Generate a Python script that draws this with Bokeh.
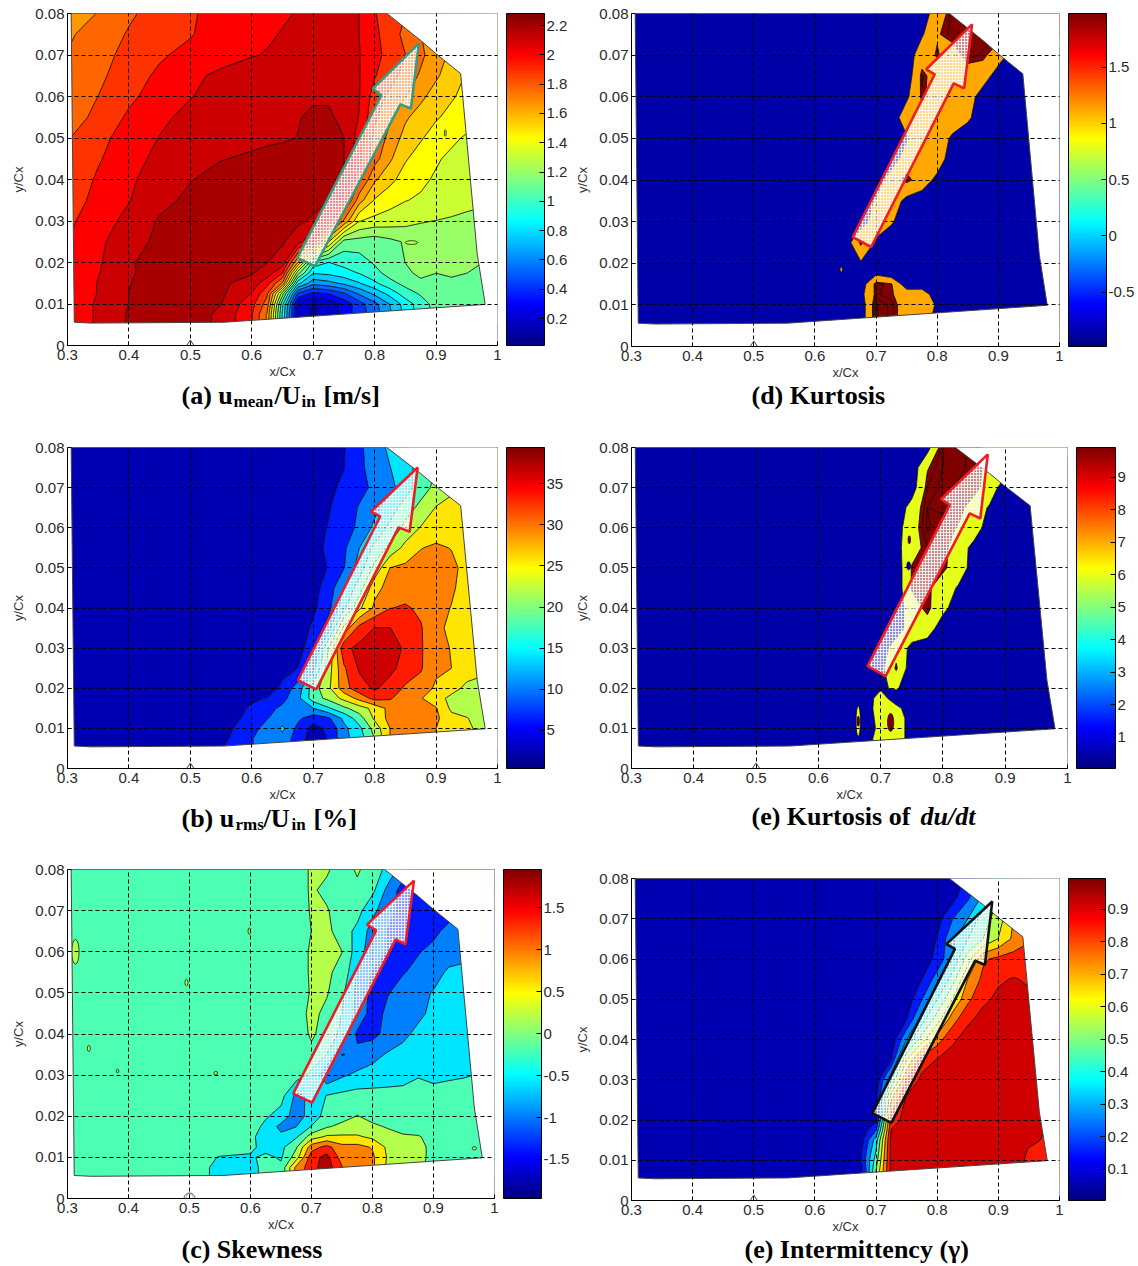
from bokeh.embed import file_html
from bokeh.layouts import column, row
from bokeh.models import ColorBar, FixedTicker, Label, LinearColorMapper, PolyAnnotation
from bokeh.plotting import figure
from bokeh.resources import INLINE
import numpy as np

# ---- measurement grid -------------------------------------------------
XS = [.30, .35, .40, .45, .50, .55, .60, .625, .65, .675, .70, .725, .75, .775, .80, .825,
      .85, .875, .90, .925, .95, .975, 1.0]
YS = [.08, .075, .07, .065, .06, .055, .05, .045, .04, .035, .03, .025, .02, .0175, .015,
      .0125, .01, .0075, .005]
X_TICKS = [.3, .4, .5, .6, .7, .8, .9, 1.0]
X_LABELS = ["0.3", "0.4", "0.5", "0.6", "0.7", "0.8", "0.9", "1"]
Y_TICKS = [0, .01, .02, .03, .04, .05, .06, .07, .08]
Y_LABELS = ["0", "0.01", "0.02", "0.03", "0.04", "0.05", "0.06", "0.07", "0.08"]

DOMAIN_X = [.306, .308, .311, .338, .555, .98, .967, .94, .90, .875, .82]
DOMAIN_Y = [.08, .05, .0056, .0054, .0056, .0099, .022, .0655, .0703, .0735, .08]

# reference point on the x axis
MARK_DIAMOND_X = [.494, .5, .506, .5]
MARK_DIAMOND_Y = [0, -.00128, 0, .00128]
MARK_CIRCLE_X = [.494, .4958, .5, .5042, .506, .5042, .5, .4958]
MARK_CIRCLE_Y = [0, .0009, .00128, .0009, 0, -.0009, -.00128, -.0009]


def seg(default, start, vals):
    r = [default] * len(XS)
    i = XS.index(start)
    r[i:i + len(vals)] = vals
    return r


# (a) mean velocity
Z_A = [
    [1.66, 1.72, 1.81, 1.88, 1.93, 1.98, 2.01, 2.03, 2.045, 2.06, 2.08, 2.09, 2.08, 2.055, 1.95, 1.88, 1.83, 1.74, 1.68, 1.6, 1.55, 1.5, 1.45],
    [1.70, 1.76, 1.84, 1.90, 1.935, 1.99, 2.03, 2.045, 2.06, 2.07, 2.09, 2.10, 2.085, 2.055, 1.97, 1.88, 1.80, 1.72, 1.62, 1.55, 1.5, 1.45, 1.4],
    [1.72, 1.78, 1.87, 1.93, 1.97, 2.01, 2.05, 2.06, 2.08, 2.09, 2.10, 2.11, 2.09, 2.06, 1.98, 1.90, 1.83, 1.74, 1.65, 1.58, 1.52, 1.45, 1.4],
    [1.73, 1.80, 1.90, 1.96, 2.03, 2.08, 2.10, 2.11, 2.12, 2.13, 2.14, 2.145, 2.12, 2.06, 1.95, 1.88, 1.78, 1.70, 1.62, 1.54, 1.48, 1.42, 1.38],
    [1.74, 1.83, 1.92, 1.99, 2.05, 2.10, 2.13, 2.14, 2.15, 2.155, 2.16, 2.16, 2.13, 2.06, 1.89, 1.80, 1.72, 1.63, 1.55, 1.5, 1.46, 1.42, 1.38],
    [1.77, 1.86, 1.96, 2.03, 2.09, 2.12, 2.14, 2.15, 2.16, 2.165, 2.18, 2.18, 2.15, 2.05, 1.85, 1.73, 1.62, 1.55, 1.5, 1.46, 1.43, 1.40, 1.37],
    [1.82, 1.91, 1.99, 2.06, 2.11, 2.14, 2.15, 2.155, 2.16, 2.17, 2.19, 2.20, 2.17, 2.00, 1.80, 1.68, 1.56, 1.50, 1.44, 1.40, 1.36, 1.34, 1.32],
    [1.84, 1.93, 2.02, 2.08, 2.13, 2.165, 2.18, 2.19, 2.20, 2.21, 2.21, 2.20, 2.17, 1.98, 1.76, 1.62, 1.50, 1.44, 1.39, 1.35, 1.35, 1.33, 1.32],
    [1.85, 1.96, 2.04, 2.10, 2.165, 2.20, 2.21, 2.21, 2.21, 2.21, 2.21, 2.20, 2.17, 1.85, 1.62, 1.52, 1.44, 1.40, 1.36, 1.33, 1.32, 1.31, 1.30],
    [1.88, 1.98, 2.05, 2.14, 2.19, 2.21, 2.22, 2.22, 2.22, 2.22, 2.21, 2.17, 2.0, 1.65, 1.48, 1.42, 1.38, 1.36, 1.34, 1.31, 1.29, 1.28, 1.27],
    [1.92, 2.0, 2.09, 2.18, 2.21, 2.22, 2.22, 2.22, 2.21, 2.19, 2.15, 2.0, 1.70, 1.38, 1.34, 1.32, 1.30, 1.27, 1.26, 1.25, 1.24, 1.23, 1.22],
    [1.94, 2.03, 2.13, 2.19, 2.21, 2.215, 2.21, 2.20, 2.18, 2.10, 1.95, 1.5, 1.10, 1.10, 1.08, 1.12, 1.16, 1.2, 1.2, 1.2, 1.2, 1.18, 1.18],
    [1.96, 2.04, 2.16, 2.20, 2.21, 2.21, 2.20, 2.17, 2.12, 1.6, 1.0, .92, .96, .98, 1.05, 1.10, 1.15, 1.17, 1.19, 1.19, 1.18, 1.15, 1.15],
    [1.97, 2.05, 2.16, 2.20, 2.21, 2.20, 2.18, 2.12, 1.95, 1.2, .82, .84, .88, .93, 1.0, 1.08, 1.13, 1.17, 1.15, 1.17, 1.15, 1.13, 1.13],
    [1.97, 2.06, 2.165, 2.21, 2.21, 2.19, 2.12, 1.98, 1.70, .85, .62, .66, .72, .80, .90, 1.0, 1.07, 1.13, 1.12, 1.12, 1.12, 1.10, 1.10],
    [1.97, 2.06, 2.17, 2.21, 2.21, 2.19, 2.05, 1.85, 1.2, .45, .32, .36, .45, .60, .72, .85, .98, 1.05, 1.08, 1.1, 1.1, 1.05, 1.05],
    [1.98, 2.07, 2.17, 2.21, 2.21, 2.17, 1.98, 1.78, .95, .20, .12, .16, .28, .42, .55, .70, .86, .98, 1.08, 1.12, 1.14, 1.05, 1.05],
    [1.98, 2.07, 2.18, 2.21, 2.21, 2.15, 1.95, 1.70, .90, .18, .12, .16, .28, .42, .52, .68, .84, .98, 1.06, 1.10, 1.12, 1.05, 1.05],
    [1.98, 2.07, 2.18, 2.21, 2.21, 2.15, 1.95, 1.70, .90, .18, .12, .16, .28, .42, .52, .68, .84, .98, 1.06, 1.10, 1.12, 1.05, 1.05],
]

# (b) rms velocity
Z_B = [
    seg(1, .60, [1, 1, 1, 1.5, 2, 3, 4, 7.5, 10, 13, 16, 18, 20, 21, 22, 22, 22]),
    seg(1, .60, [1, 1, 1, 2, 2.5, 3, 4.2, 7.5, 9.5, 12, 14, 18, 20, 22, 23, 24, 24]),
    seg(1, .60, [1, 1, 1, 2, 2.5, 3.5, 5, 7, 9, 11, 14, 18, 21, 23, 24.5, 25, 25]),
    seg(1, .60, [1, 1, 1, 2, 2.5, 4, 6, 8.5, 11, 14, 18, 21, 24, 25, 25, 25, 25]),
    seg(1, .60, [1, 1, 1, 2, 3, 4.5, 6.5, 9, 13, 17, 21, 24, 25, 26, 26, 26, 26]),
    seg(1, .60, [1, 1, 1, 2, 3, 5, 7.5, 12, 17, 21, 25, 27.5, 28.5, 27.5, 26, 26, 26]),
    seg(1, .60, [1, 1, 1, 1.5, 2.5, 4.5, 8, 14, 21, 27.7, 28.5, 29.5, 30.5, 29, 26, 25, 25]),
    seg(1, .60, [1, 1, 1, 1.5, 3, 6, 12, 18, 26.5, 29, 30, 30.5, 30, 28.5, 25.5, 25, 25]),
    seg(1, .60, [1, 1, 1, 2, 3.5, 7, 15, 23, 28.5, 31.5, 32, 31, 29.5, 27.5, 25, 25, 25]),
    seg(1, .60, [1, 1, 1, 2, 5, 10, 25, 33, 35.6, 35.6, 33.5, 31.9, 29, 26.5, 25, 25, 25]),
    seg(1, .60, [1, 1, 1, 2.5, 7, 20, 34.5, 36.5, 37, 37, 35, 32, 29, 27.5, 25, 25, 25]),
    seg(1, .60, [1, 1, 2.5, 4.3, 11, 22, 31, 36, 37, 36.5, 34, 32, 28.5, 27.7, 25.5, 25, 25]),
    seg(1, .60, [1, 1.5, 5.5, 10, 18, 23, 30, 34, 36, 34, 31, 30, 27, 25, 23, 22, 22]),
    seg(1, .60, [3.5, 4.5, 7, 11, 18, 21, 25, 29, 33, 32, 29.5, 28, 25, 23, 21.5, 21, 21]),
    seg(1, .60, [5, 7, 9, 11, 12, 15.5, 19, 22, 25, 29, 29.5, 28, 28, 23, 22, 22, 22]),
    seg(1, .55, [1.2, 6, 8, 10, 9, 6, 7.5, 13, 18, 24.5, 29, 30, 29, 28.5, 25, 24, 22, 22]),
    seg(1, .55, [2.5, 7, 9.5, 12.8, 7, 3, 5, 11, 15, 21.5, 27.7, 31, 30, 27.7, 26, 25, 22, 22]),
    seg(1, .55, [3, 8, 10, 11, 6, 2.5, 4.5, 11, 14, 20, 27.7, 32, 30, 27.7, 25.5, 25, 22, 22]),
    seg(1, .55, [4, 8, 10, 11, 6, 2.5, 4.5, 11, 14, 20, 27.7, 32, 30, 27.7, 25.5, 25, 22, 22]),
]

# (c) skewness
Z_C = [
    seg(-.2, .70, [.05, .05, -.2, .05, -.2, -.5, -1.0, -1.3, -1.3, -1.3, -1.3, -1.3, -1.3]),
    seg(-.2, .70, [.05, -.1, -.2, -.1, -.3, -.9, -1.35, -1.5, -1.5, -1.3, -1.2, -1.2, -1.2]),
    seg(-.2, .70, [.03, .03, -.2, -.25, -.7, -1.0, -1.4, -1.4, -1.4, -1.3, -1.1, -1, -1]),
    seg(-.2, .70, [0, .1, -.2, -.5, -.95, -1.2, -1.35, -1.3, -1.25, -1.1, -1.05, -1, -1]),
    seg(-.2, .70, [.05, .1, 0, -.6, -1, -1.2, -1.3, -1.2, -1.1, -1.05, -.9, -.9, -.9]),
    seg(-.2, .70, [.05, .05, -.1, -.8, -1.2, -1.3, -1.2, -1.1, -1, -.7, -.7, -.7, -.7]),
    seg(-.2, .70, [.03, .03, -.3, -.9, -1.3, -1.2, -1.05, -.95, -.75, -.65, -.65, -.65, -.65]),
    seg(-.2, .70, [.1, -.1, -.4, -.9, -1.35, -1.1, -.95, -.85, -.72, -.65, -.6, -.6, -.6]),
    seg(-.2, .70, [.05, -.15, -.5, -1.25, -1.3, -1.05, -.85, -.72, -.65, -.6, -.55, -.55, -.55]),
    seg(-.2, .70, [-.1, -.4, -1.2, -1.1, -.9, -.75, -.7, -.65, -.6, -.55, -.55, -.55, -.55]),
    seg(-.2, .70, [-.5, -1.1, -.85, -.7, -.65, -.6, -.55, -.42, -.5, -.45, -.42, -.38, -.38]),
    seg(-.25, .675, [-.9, -.7, -.38, -.3]),
    seg(-.2, .625, [-.35, -.55, -1.0, -.6, -.25, -.15, .01, -.1]),
    seg(-.2, .625, [-.5, -.9, -.8, -.38, -.05, .1, .1, .05, -.03, -.1, -.15]),
    seg(-.2, .60, [-.3, -.6, -.7, -.45, .2, .45, .45, .45, .3, .1, .03, .02, -.1]),
    seg(-.2, .60, [-.3, -.55, -.5, -.05, 1.0, 1.3, .9, .9, .75, .3, .2, .1, -.1]),
    seg(-.2, .55, [-.42, -.45, -.3, -.45, .2, 1.4, 1.7, 1.0, .95, .85, .35, .2, .1, -.1]),
    seg(-.2, .55, [-.5, -.5, -.3, -.3, .9, 1.4, 1.8, 1.2, .95, .85, .3, .2, .05, -.1]),
    seg(-.2, .55, [-.5, -.5, -.3, -.3, .9, 1.4, 1.8, 1.2, .95, .85, .3, .2, .05, -.1]),
]

# (d) kurtosis, clipped by the colour range: below, mid band, saturated band
Z_D = [
    seg(-1, .80, [1, 2, 2, 2, 2, 2, 2, 2, 2]),
    seg(-1, .775, [-.2, 1.5, 2, 2, 2, 2, 2, 2, 2, 2]),
    seg(-1, .775, [1, 1.7, 1, 2, 1.8, 1]),
    seg(-1, .775, [1.9, 1, 1, 1, 1]),
    seg(-1, .75, [-.3, 1.8, 1, 1, 1]),
    seg(-1, .75, [1, 1, 1, 1, .3]),
    seg(-1, .75, [-.2, 1, 1, -.3]),
    seg(-1, .75, [1, 1, 1]),
    seg(-1, .725, [1, 1.9, 1, -.5]),
    seg(-1, .70, [.2, 1, -.5]),
    seg(-1, .70, [1, .2]),
    seg(-1, .675, [1.9, -.3]),
    seg(-1, .675, [-.2]),
    seg(-1, .70, [-.3]),
    seg(-1, .70, [2, 1.7]),
    seg(-1, .675, [-.5, 1.9, 1.7, 1, 1]),
    seg(-1, .70, [2.4, 2, 1, 1, -.2]),
    seg(-1, .70, [2.4, 2, 1, 1, -.5]),
    seg(-1, .70, [2.4, 2, 1, 1, -.5]),
]

# (e) kurtosis of du/dt
Z_E = [
    seg(-1, .775, [-.6, 2.4, 2.6, 2.2, 1, 1, 1, 1, 1, 1]),
    seg(-1, .775, [1.5, 2.4, 2.7, 2, 1.2, 1]),
    seg(-1, .75, [-.8, 2, 2.6, 2.2, 2, 1]),
    seg(-1, .75, [.6, 2.4, 2.6, 2, 1, -.2]),
    seg(-1, .725, [-.6, .9, 2.5, 2, 1.5, 1]),
    seg(-1, .725, [-.5, 1, 2, 1.9, 1, -.6]),
    seg(-1, .75, [1.7, 2, 1.8, 1, -.8]),
    seg(-1, .75, [1.7, 1.8, 1, -.2]),
    seg(-1, .75, [1, 1.9, .5]),
    seg(-1, .75, [1, 1]),
    seg(-1, .725, [1, -.4]),
    seg(-1, .70, [-.5, 1.8]),
    seg(-1, .70, [-.2, .2]),
    seg(-1, .70, [.8]),
    seg(-1, .70, [1, .5]),
    seg(-1, .70, [.7, 1, -.8]),
    seg(-1, .70, [.5, 1, -.8]),
    seg(-1, .70, [1, 1, -.8]),
    seg(-1, .70, [1, 1, -.8]),
]

# (f) intermittency
Z_F = [
    seg(.02, .80, [.03, .04, .13, .25, .35, .45, .5, .5, .5]),
    seg(.02, .80, [.04, .07, .19, .33, .5, .55, .55, .55, .55]),
    seg(.02, .80, [.06, .2, .3, .45, .55, .7, .75, .75, .75]),
    seg(.02, .775, [.03, .11, .28, .4, .5, .6, .72, .79, .8, .8]),
    seg(.02, .775, [.05, .13, .3, .55, .78, .82, .84, .82, .81, .81]),
    seg(.02, .75, [.03, .1, .25, .45, .7, .82, .885, .9, .885, .88, .88]),
    seg(.02, .75, [.04, .2, .4, .6, .77, .88, .91, .92, .91, .91, .91]),
    seg(.02, .75, [.1, .35, .55, .75, .88, .92, .93, .93, .93, .93, .93]),
    seg(.02, .725, [.03, .3, .55, .75, .88, .93, .93, .93, .93, .93, .93, .93]),
    seg(.02, .725, [.1, .6, .85, .9, .93, .93, .93, .93, .93, .93, .93, .93]),
    seg(.02, .70, [.03, .4, .8, .92, .93, .93, .93, .93, .93, .93, .93, .93, .93]),
    seg(.02, .70, [.08, .7, .92, .93, .93, .93, .93, .93, .93, .93, .93, .93, .93]),
    seg(.02, .70, [.08, .85, .93, .93, .93, .93, .93, .93, .93, .93, .93, .93, .93]),
    seg(.02, .70, [.2, .9, .93, .93, .93, .93, .93, .93, .93, .93, .93, .895, .895]),
    seg(.02, .675, [.05, .35, .93, .93, .93, .93, .93, .93, .93, .93, .93, .91, .89, .89]),
    seg(.02, .675, [.08, .4, .93, .93, .93, .93, .93, .93, .93, .93, .93, .89, .87, .87]),
    seg(.02, .675, [.1, .45, .93, .93, .93, .93, .93, .93, .93, .93, .93, .88, .87, .87]),
    seg(.02, .675, [.05, .5, .93, .93, .93, .93, .93, .93, .93, .93, .93, .88, .87, .87]),
    seg(.02, .675, [.05, .5, .93, .93, .93, .93, .93, .93, .93, .93, .93, .88, .87, .87]),
]

# ---- annotation arrows (data coordinates) -------------------------------
ARROW_A = ([.674, .703, .842, .859, .872, .797, .811], [.0211, .0191, .0581, .0571, .0728, .0619, .0603])
ARROW_B = ([.675, .705, .839, .857, .870, .794, .809], [.022, .0197, .0601, .059, .075, .064, .0628])
ARROW_C = ([.670, .701, .838, .854, .868, .791, .806], [.0255, .0233, .063, .0618, .0773, .0666, .0652])
ARROW_D = ([.662, .692, .827, .844, .857, .782, .796], [.0263, .0239, .0632, .062, .0774, .0666, .0654])
ARROW_E = ([.679, .708, .843, .860, .872, .797, .811], [.0255, .023, .0636, .0623, .0783, .0671, .0657])
ARROW_F = ([.694, .725, .862, .878, .890, .815, .829], [.0217, .0193, .0596, .0585, .0743, .0637, .0625])

# small closed contours: x, y, w, h, colour value
ISLANDS_A = [(.915, .0512, .003, .0016, .56), (.86, .0248, .02, .0009, .56)]
ISLANDS_C = [(.335, .0365, .005, .0015, .55), (.382, .031, .004, .0009, .55), (.543, .0305, .006, .0008, .55),
             (.495, .0525, .005, .0016, .55), (.598, .065, .004, .0016, .55), (.967, .0122, .007, .0008, .55),
             (.313, .06, .012, .006, .55)]
ISLANDS_D = [(.643, .0185, .004, .0012, .71)]
ISLANDS_E = [(.664, .0118, .007, .0075, .6), (.664, .0118, .004, .0025, 1.0), (.716, .0115, .01, .0045, 1.0),
             (.746, .057, .004, .002, 1.0), (.745, .0505, .006, .002, .05)]


def jet(t):
    c = lambda v: int(round(255 * float(np.clip(v, 0, 1))))
    return "#%02x%02x%02x" % (c(min(4 * t - 1.5, -4 * t + 4.5)), c(min(4 * t - .5, -4 * t + 3.5)),
                              c(min(4 * t + .5, -4 * t + 2.5)))


JET = [jet(i / 255) for i in range(256)]


def even(low, high, n, top=None):
    levels = list(np.linspace(low, high, n + 1))
    levels[0] = low - 1
    levels[-1] = high + 1
    ts = [(k + .5) / n for k in range(n)]
    if top is not None:
        ts[-1] = top
    return levels, [jet(t) for t in ts]


SANS = "Liberation Sans"
SERIF = "Liberation Serif"
TICK_PX = "15px"


def panel(z, levels, fills, arrow, edge, low, high, cticks, clabels, origin, frame, bar,
          mark=(MARK_DIAMOND_X, MARK_DIAMOND_Y), marker="diamond", islands=()):
    ox, oy, end_x, end_y = origin
    left, top, right, bottom = frame
    w, h = right - left, bottom - top
    p = figure(frame_width=w, frame_height=h, x_range=(.3, 1), y_range=(0, .08), title=None,
               output_backend="svg", toolbar_location=None,
               min_border_left=left - ox, min_border_right=end_x - right,
               min_border_top=top - oy, min_border_bottom=end_y - bottom,
               outline_line_color="#555555", background_fill_color="white")
    p.contour(np.array(XS), np.array(YS[::-1]), np.array(z[::-1], dtype=float), levels,
              fill_color=fills, line_color="black", line_width=.8)
    for ix, iy, iw, ih, t in islands:
        p.ellipse(ix, iy, width=iw, height=ih, fill_color=jet(t), line_color="black", line_width=.7)
    p.multi_polygons(xs=[[[[.29, 1.01, 1.01, .29], DOMAIN_X]]], ys=[[[[-.01, -.01, .09, .09], DOMAIN_Y]]],
                     fill_color="white", line_color=None)
    p.patch(DOMAIN_X + DOMAIN_X[:1], DOMAIN_Y + DOMAIN_Y[:1], fill_color=None, line_color="#444444", line_width=1)
    for ax in (p.xaxis, p.yaxis):
        ax.major_tick_in = 4
        ax.major_tick_out = 0
        ax.minor_tick_line_color = None
        ax.axis_line_color = "black"
        ax.major_label_text_font = SANS
        ax.major_label_text_font_size = TICK_PX
        ax.major_label_text_color = "#2a2a2a"
        ax.axis_label_text_font = SANS
        ax.axis_label_text_font_size = "13px"
        ax.axis_label_text_font_style = "normal"
        ax.axis_label_text_color = "#333333"
    p.xaxis.ticker = X_TICKS
    p.yaxis.ticker = Y_TICKS
    p.xaxis.major_label_overrides = dict(zip(X_TICKS, X_LABELS))
    p.yaxis.major_label_overrides = dict(zip(Y_TICKS, Y_LABELS))
    p.xaxis.axis_label = "x/Cx"
    p.yaxis.axis_label = "y/Cx"
    p.xaxis.major_label_standoff = 4
    p.yaxis.major_label_standoff = 3
    p.xaxis.axis_label_standoff = 1
    p.yaxis.axis_label_standoff = 6
    for g in (p.xgrid, p.ygrid):
        g.grid_line_color = "black"
        g.grid_line_dash = "4 3"
        g.grid_line_width = 1
        g.level = "guide"
    p.scatter([.5], [0], marker=marker, size=11, fill_color=None, line_color="#333333", line_width=.8)
    p.add_layout(PolyAnnotation(xs=mark[0], ys=mark[1], fill_color="white", fill_alpha=.01, line_color="#333333",
                                line_width=1, level="overlay"))
    p.patch(arrow[0] + arrow[0][:1], arrow[1] + arrow[1][:1], fill_color="white", fill_alpha=.55,
            hatch_pattern="cross", hatch_color="white", hatch_alpha=.75, hatch_scale=3, hatch_weight=1,
            line_color=edge, line_width=2.6, level="annotation")
    cb = ColorBar(color_mapper=LinearColorMapper(palette=JET, low=low, high=high),
                  ticker=FixedTicker(ticks=cticks), major_label_overrides=dict(zip(cticks, clabels)),
                  width=bar[1] - bar[0], height=h, location=(bar[0] - right, 0), margin=0, padding=0,
                  major_tick_in=5, major_tick_line_color="black", minor_tick_line_color=None,
                  bar_line_color="black", label_standoff=2, major_label_text_font=SANS,
                  major_label_text_font_size=TICK_PX, major_label_text_color="#2a2a2a")
    p.add_layout(cb, "right")
    return p


def caption(ox, oy, left, end_x, h, pieces):
    fw = end_x - left
    c = figure(frame_width=fw, frame_height=h, x_range=(left, end_x), y_range=(oy + h, oy), title=None,
               x_axis_type=None, y_axis_type=None, output_backend="svg", toolbar_location=None,
               min_border_left=left - ox, min_border_right=0, min_border_top=0, min_border_bottom=0,
               outline_line_color=None, background_fill_color=None, border_fill_color=None,
               margin=(-8, 0, 0, 0))
    c.grid.visible = False
    for text, px, py, size, style in pieces:
        c.add_layout(Label(x=px, y=py, text=text, text_font=SERIF, text_font_size=size, text_font_style=style,
                           text_color="black", text_baseline="alphabetic"))
    return c


BIG, SUB = "26px", "17px"
lev_a, fill_a = even(.016, 2.282, 20, top=.96)
lev_b, fill_b = even(.38, 39.4, 10, top=.92)
lev_c, fill_c = even(-1.965, 1.957, 10)
lev_f, fill_f = even(.004, .994, 10, top=.92)
MAROON, NAVY = jet(1.0), jet(.04)
lev_d, fill_d = [-2, 0, 1.6, 1.85, 2.1, 2.35, 3], [NAVY, jet(.71), MAROON, MAROON, MAROON, MAROON]
lev_e, fill_e = [-2, 0, 1.6, 2.0, 2.4, 3], [NAVY, jet(.6), MAROON, MAROON, MAROON]

L_END, R_END = 569, 1136
p_a = panel(Z_A, lev_a, fill_a, ARROW_A, "#3c9a80", .016, 2.282,
            [.2, .4, .6, .8, 1, 1.2, 1.4, 1.6, 1.8, 2, 2.2],
            ["0.2", "0.4", "0.6", "0.8", "1", "1.2", "1.4", "1.6", "1.8", "2", "2.2"],
            (0, 0, L_END, 383), (67, 13, 497, 345), (506, 544), islands=ISLANDS_A)
p_b = panel(Z_B, lev_b, fill_b, ARROW_B, "#ee1c25", .38, 39.4,
            [5, 10, 15, 20, 25, 30, 35], ["5", "10", "15", "20", "25", "30", "35"],
            (0, 425, L_END, 806), (67, 447, 497, 768), (506, 544))
p_c = panel(Z_C, lev_c, fill_c, ARROW_C, "#ee1c25", -1.965, 1.957,
            [-1.5, -1, -.5, 0, .5, 1, 1.5], ["-1.5", "-1", "-0.5", "0", "0.5", "1", "1.5"],
            (0, 850, L_END, 1236), (67, 869, 494, 1198), (503, 541),
            mark=(MARK_CIRCLE_X, MARK_CIRCLE_Y), marker="circle", islands=ISLANDS_C)
p_d = panel(Z_D, lev_d, fill_d, ARROW_D, "#ee1c25", -.983, 1.977,
            [-.5, 0, .5, 1, 1.5], ["-0.5", "0", "0.5", "1", "1.5"],
            (L_END, 0, R_END, 383), (631, 13, 1059, 346), (1068, 1106), islands=ISLANDS_D)
p_e = panel(Z_E, lev_e, fill_e, ARROW_E, "#ee1c25", .046, 9.92,
            [1, 2, 3, 4, 5, 6, 7, 8, 9], ["1", "2", "3", "4", "5", "6", "7", "8", "9"],
            (L_END, 425, R_END, 806), (631, 447, 1067, 768), (1076, 1115), islands=ISLANDS_E)
p_f = panel(Z_F, lev_f, fill_f, ARROW_F, "#111111", .004, .994,
            [.1, .2, .3, .4, .5, .6, .7, .8, .9], ["0.1", "0.2", "0.3", "0.4", "0.5", "0.6", "0.7", "0.8", "0.9"],
            (L_END, 850, R_END, 1236), (631, 878, 1059, 1200), (1068, 1105))

c_a = caption(0, 375, 67, L_END, 50, [("(a) u", 181, 395, BIG, "bold"), ("mean", 233, 401, SUB, "bold"),
                                      ("/U", 274, 395, BIG, "bold"), ("in", 301, 401, SUB, "bold"),
                                      ("[m/s]", 323, 395, BIG, "bold")])
c_b = caption(0, 798, 67, L_END, 52, [("(b) u", 181, 818, BIG, "bold"), ("rms", 235, 824, SUB, "bold"),
                                      ("/U", 263, 818, BIG, "bold"), ("in", 291, 824, SUB, "bold"),
                                      ("[%]", 313, 818, BIG, "bold")])
c_c = caption(0, 1228, 67, L_END, 38, [("(c) Skewness", 181, 1249, BIG, "bold")])
c_d = caption(L_END, 375, 631, R_END, 50, [("(d) Kurtosis", 751, 395, BIG, "bold")])
c_e = caption(L_END, 798, 631, R_END, 52, [("(e) Kurtosis of ", 751, 816, BIG, "bold"), ("du/dt", 920, 816, BIG, "bold italic")])
c_f = caption(L_END, 1228, 631, R_END, 38, [("(e) Intermittency (γ)", 744, 1249, BIG, "bold")])

layout = row(column(p_a, c_a, p_b, c_b, p_c, c_c, spacing=0),
             column(p_d, c_d, p_e, c_e, p_f, c_f, spacing=0, margin=(0, 0, 0, -3)), spacing=0)
open("out.html", "w").write(file_html(layout, INLINE))
